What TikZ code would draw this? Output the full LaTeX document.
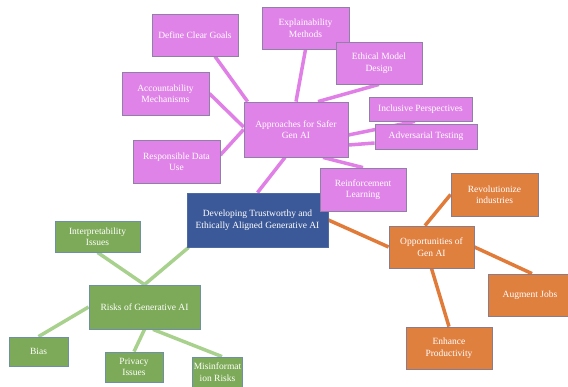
\documentclass[tikz,border=0pt]{standalone}
\usepackage{fontspec}
\setmainfont{Liberation Serif}
\usetikzlibrary{backgrounds}

\definecolor{pinkfill}{HTML}{E083E8}
\definecolor{pinkedge}{HTML}{9080A8}
\definecolor{pinkline}{HTML}{E07FE6}
\definecolor{bluefill}{HTML}{3B5998}
\definecolor{blueedge}{HTML}{4E6AA2}
\definecolor{orangefill}{HTML}{E0803F}
\definecolor{orangeedge}{HTML}{8C7B88}
\definecolor{orangeline}{HTML}{E07B39}
\definecolor{greenfill}{HTML}{7DAA58}
\definecolor{greenedge}{HTML}{6E8FA6}
\definecolor{greenline}{HTML}{A9D18E}

\tikzset{
  box/.style={rectangle, text=white, align=center, inner sep=1pt, line width=0.8pt,
    font=\fontsize{9.5}{11.5}\selectfont},
  boxsize/.style 2 args={minimum width=#1pt, minimum height=#2pt},
  topic/.style={box, fill=bluefill, draw=blueedge},
  approach/.style={box, fill=pinkfill, draw=pinkedge},
  chance/.style={box, fill=orangefill, draw=orangeedge},
  risk/.style={box, fill=greenfill, draw=greenedge},
  pinklink/.style={draw=pinkline, line width=3.5pt},
  orangelink/.style={draw=orangeline, line width=3.5pt},
  greenlink/.style={draw=greenline, line width=3.5pt}
}

\begin{document}
\begin{tikzpicture}[x=1pt, y=-1pt]
  \useasboundingbox (0,0) rectangle (568,386);
  % central topic
  \node[topic, boxsize={141}{54}] (main) at (257.5,220) {Developing Trustworthy and\\Ethically Aligned Generative AI};
  % approaches for safer gen AI
  \node[approach, boxsize={104}{55}] (safe) at (296,129.5) {Approaches for Safer\\Gen AI};
  \node[approach, boxsize={86}{42}] (goals) at (195,35) {Define Clear Goals};
  \node[approach, boxsize={87}{42}] (explain) at (305.5,28) {Explainability\\Methods};
  \node[approach, boxsize={86}{42}] (ethic) at (379,63) {Ethical Model\\Design};
  \node[approach, boxsize={87}{43}] (account) at (165.5,93.5) {Accountability\\Mechanisms};
  \node[approach, boxsize={103}{24}] (inclus) at (420.5,109) {Inclusive Perspectives};
  \node[approach, boxsize={102}{25}] (advers) at (426,136.5) {Adversarial Testing};
  \node[approach, boxsize={87}{43}] (data) at (176.5,161.5) {Responsible Data\\Use};
  \node[approach, boxsize={86}{43}] (reinf) at (363,189.5) {Reinforcement\\Learning};
  % opportunities of gen AI
  \node[chance, boxsize={85}{42}] (opps) at (431.5,247) {Opportunities of\\Gen AI};
  \node[chance, boxsize={87}{43}] (revol) at (494.5,194.5) {Revolutionize\\industries};
  \node[chance, boxsize={84}{42}] (jobs) at (530,295) {Augment Jobs};
  \node[chance, boxsize={86}{42}] (prod) at (449,348) {Enhance\\Productivity};
  % risks of generative AI
  \node[risk, boxsize={111}{44}] (risks) at (144.5,307) {Risks of Generative AI};
  \node[risk, boxsize={85}{31}] (interp) at (97.5,236.5) {Interpretability\\Issues};
  \node[risk, boxsize={59}{29}] (bias) at (38.5,351.5) {Bias};
  \node[risk, boxsize={58}{30}] (priv) at (134,367) {Privacy\\Issues};
  \node[risk, boxsize={49}{30}] (misinfo) at (217.5,372) {Misinformat\\ion Risks};

  \begin{pgfonlayer}{background}
    % pink links
    \draw[pinklink] ([xshift=20pt]goals.south) -- ([xshift=4pt]safe.north west);
    \draw[pinklink] (account.east) -- ([yshift=2.5pt]safe.west);
    \draw[pinklink] ([yshift=6.5pt]data.east) -- (safe.west);
    \draw[pinklink] (explain.south) -- (safe.north);
    \draw[pinklink] (ethic.south) -- ([xshift=22pt]safe.north);
    \draw[pinklink] ([yshift=-5.5pt]safe.east) -- ([xshift=-5.5pt]inclus.south);
    \draw[pinklink] ([yshift=-15.5pt]safe.east) -- ([yshift=-6.5pt]advers.west);
    \draw[pinklink] ([xshift=27pt]safe.south) -- (reinf.north);
    \draw[pinklink] ([xshift=-11pt]safe.south) -- (main.north);
    % orange links
    \draw[orangelink] (main.east) -- (opps.west);
    \draw[orangelink] ([xshift=-6.5pt]opps.north) -- (revol.west);
    \draw[orangelink] (opps.east) -- ([xshift=2pt]jobs.north);
    \draw[orangelink] (opps.south) -- (prod.north);
    % green links
    \draw[greenlink] ([xshift=2pt]main.south west) -- (risks.north);
    \draw[greenlink] (interp.south) -- (risks.north);
    \draw[greenlink] (risks.west) -- (bias.north);
    \draw[greenlink] (risks.south) -- (priv.north);
    \draw[greenlink] ([xshift=8.5pt]risks.south) -- ([xshift=4.5pt]misinfo.north);
  \end{pgfonlayer}
\end{tikzpicture}
\end{document}
